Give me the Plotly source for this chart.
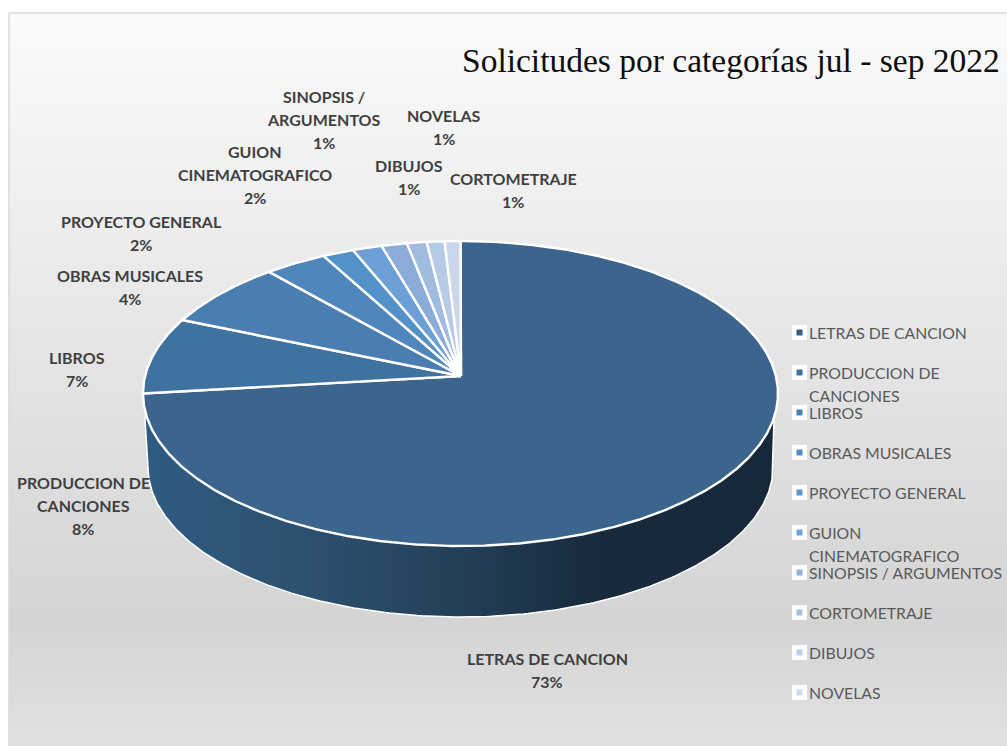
import numpy as np
import plotly.graph_objs as go

# slice names in drawing order (clockwise from 12 o'clock)
categories = ['LETRAS DE CANCION', 'PRODUCCION DE CANCIONES', 'LIBROS', 'OBRAS MUSICALES',
              'PROYECTO GENERAL', 'GUION CINEMATOGRAFICO', 'SINOPSIS / ARGUMENTOS',
              'CORTOMETRAJE', 'DIBUJOS', 'NOVELAS']
# percentages printed on the labels
label_pct = [73, 8, 7, 4, 2, 2, 1, 1, 1, 1]
# share of the rim each slice covers in the picture (the 3D view distorts them)
rim_share = [75.0, 8.0, 6.7, 3.2, 1.6, 1.5, 1.3, 1.0, 0.9, 0.8]
slice_colors = ['#3b658c', '#4072a0', '#4a7db0', '#4f87bd', '#5391c9',
                '#6b9fd5', '#8bacd8', '#a0bcdf', '#b7cbe6', '#cad7eb']
legend_colors = ['#2f5f8a', '#3f72a6', '#4a80b8', '#4f8ac4', '#5a97d0',
                 '#70a5d9', '#8cb1dd', '#a3c0e2', '#b8cfe9', '#cddcf0']

title_text = 'Solicitudes por categorías jul - sep 2022'

# pie geometry, in page pixels
apex = (461, 376)
top_c, top_rx, top_ry = (460.5, 393.5), 317.5, 152.5
bot_c, bot_rx, bot_ry = (460.5, 467), 312.5, 150


def rim(theta, c=top_c, rx=top_rx, ry=top_ry):
    t = np.radians(theta)
    return c[0] + rx * np.sin(t), c[1] - ry * np.cos(t)


traces = []

# chart background
traces.append(go.Scatter(
    x=[9, 1012, 1012, 9, 9], y=[13, 13, 752, 752, 13],
    mode='lines', line=dict(color='#d9d9d9', width=1.5),
    fill='toself',
    fillgradient=dict(type='vertical', start=13, stop=746,
                      colorscale=[[0, '#fbfbfb'], [0.83, '#d4d4d4'], [1, '#e1e1e1']]),
    hoverinfo='skip', showlegend=False))

# side wall of the cake
bx, by = rim(np.linspace(90, 270, 240), bot_c, bot_rx, bot_ry)
side_x = [rim(99)[0], *bx, rim(261)[0] - 2]
side_y = [rim(99)[1], *by, rim(261)[1]]
traces.append(go.Scatter(
    x=side_x + side_x[:1], y=side_y + side_y[:1],
    mode='lines', line=dict(color='white', width=1.5),
    fill='toself',
    fillgradient=dict(type='horizontal',
                      colorscale=[[0, '#2f5b81'], [0.25, '#2d5170'], [0.5, '#233f58'],
                                  [0.72, '#182a3b'], [1, '#16283a']]),
    hoverinfo='skip', showlegend=False))

# top slices
start = 0.0
for name, share, color, pct in zip(categories, rim_share, slice_colors, label_pct):
    stop = start + share * 3.6
    ax, ay = rim(np.linspace(start, stop, max(int(share * 8), 4)))
    traces.append(go.Scatter(
        x=[apex[0], *ax, apex[0]], y=[apex[1], *ay, apex[1]],
        mode='lines', line=dict(color='white', width=2.4), fill='toself', fillcolor=color,
        name=name, text=f'{name}: {pct}%', hoverinfo='text', showlegend=False))
    start = stop

# legend keys
legend_y = [332.5, 372.5, 412.5, 452.5, 492.5, 532.5, 572.5, 612.5, 652.5, 692.5]
traces.append(go.Scatter(x=[799.5] * 10, y=legend_y, mode='markers',
                         marker=dict(symbol='square', size=15, color='white'),
                         hoverinfo='skip', showlegend=False))
traces.append(go.Scatter(x=[799.5] * 10, y=legend_y, mode='markers',
                         marker=dict(symbol='square', size=6, color=legend_colors),
                         hoverinfo='skip', showlegend=False))

fig = go.Figure(traces)

annotations = [dict(x=1002, y=60, text=title_text, xanchor='right', yanchor='middle',
                    showarrow=False, font=dict(family='Liberation Serif', size=33.5, color='#0d0d0d'))]

# legend text (long names wrap, as in the picture)
legend_lines = [(332, 'LETRAS DE CANCION'), (372, 'PRODUCCION DE'), (395, 'CANCIONES'),
                (412, 'LIBROS'), (452, 'OBRAS MUSICALES'), (492, 'PROYECTO GENERAL'),
                (532, 'GUION'), (555, 'CINEMATOGRAFICO'), (572, 'SINOPSIS / ARGUMENTOS'),
                (612, 'CORTOMETRAJE'), (652, 'DIBUJOS'), (692, 'NOVELAS')]
for y, txt in legend_lines:
    annotations.append(dict(x=807, y=y, text=txt, xanchor='left', yanchor='middle', showarrow=False,
                            font=dict(family='Lato', size=15.8, color='#595959')))

# data labels: centre x, first line y, lines
label_spots = [(547, 658, ['LETRAS DE CANCION']),
               (83, 482, ['PRODUCCION DE', 'CANCIONES']),
               (77, 357, ['LIBROS']),
               (130, 275, ['OBRAS MUSICALES']),
               (141, 221, ['PROYECTO GENERAL']),
               (255, 151, ['GUION', 'CINEMATOGRAFICO']),
               (324, 96, ['SINOPSIS /', 'ARGUMENTOS']),
               (513, 178, ['CORTOMETRAJE']),
               (409, 165, ['DIBUJOS']),
               (444, 115, ['NOVELAS'])]
for (x, y, lines), pct in zip(label_spots, label_pct):
    for i, txt in enumerate(lines + [f'{pct}%']):
        annotations.append(dict(x=x, y=y + i * 23, text=txt, showarrow=False,
                                xanchor='center', yanchor='middle',
                                font=dict(family='Lato', size=16, color='#404040', weight='bold')))

fig.update_layout(
    width=1007, height=746, margin=dict(l=0, r=0, t=0, b=0),
    paper_bgcolor='white', plot_bgcolor='white',
    xaxis=dict(range=[0, 1007], visible=False, fixedrange=True),
    yaxis=dict(range=[746, 0], visible=False, fixedrange=True),
    annotations=annotations, showlegend=False)

# the browser's default page margin would push the chart 8px off
fig.write_html("out.html", config={'displayModeBar': False},
               post_script="document.body.style.margin='0';document.body.style.overflow='hidden';")
